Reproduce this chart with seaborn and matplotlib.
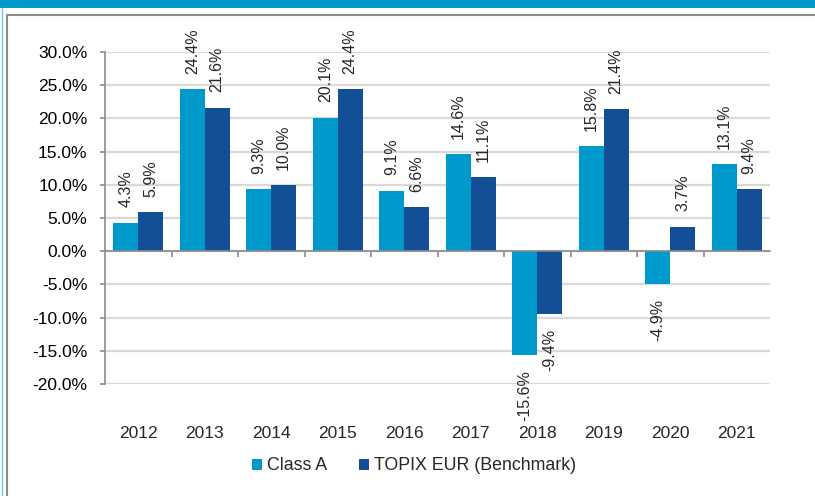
import pandas as pd
import matplotlib
matplotlib.use("Agg")
import matplotlib.pyplot as plt
import matplotlib.ticker as mticker
from matplotlib.patches import Rectangle, Patch
from matplotlib.lines import Line2D
import seaborn as sns

# ── Data ──────────────────────────────────────────────────
years = ["2012", "2013", "2014", "2015", "2016", "2017", "2018", "2019", "2020", "2021"]
class_a = [4.3, 24.4, 9.3, 20.1, 9.1, 14.6, -15.6, 15.8, -4.9, 13.1]
topix = [5.9, 21.6, 10.0, 24.4, 6.6, 11.1, -9.4, 21.4, 3.7, 9.4]
series_names = ["Class A", "TOPIX EUR (Benchmark)"]

PALETTE = {"Class A": "#0099cc", "TOPIX EUR (Benchmark)": "#134f97"}
GRID = "#d9d9d9"
AXIS = "#8c8c8c"

sns.set_theme(style="white")
plt.rcParams["font.family"] = ["Liberation Sans", "DejaVu Sans"]

df = pd.DataFrame({
    "year": years * 2,
    "value": class_a + topix,
    "series": [series_names[0]] * len(years) + [series_names[1]] * len(years),
})

fig = plt.figure(figsize=(8.15, 4.96), dpi=100)
W, H = 815, 496
ax = fig.add_axes([105 / W, 1 - 384 / H, 665 / W, 332 / H])

sns.barplot(data=df, x="year", y="value", hue="series", order=years,
            hue_order=series_names, palette=PALETTE, width=0.75,
            saturation=1, legend=False, ax=ax, edgecolor="none")

ax.set_ylim(-20, 30)
ax.set_xlim(-0.5, len(years) - 0.5)
ax.yaxis.set_major_locator(mticker.MultipleLocator(5))
ax.yaxis.set_major_formatter(mticker.FuncFormatter(lambda v, _: f"{v:.1f}%"))
ax.grid(axis="y", color=GRID, linewidth=1.6)
ax.set_axisbelow(True)
ax.set_xlabel("")
ax.set_ylabel("")

for side in ["top", "right"]:
    ax.spines[side].set_visible(False)
ax.spines["left"].set_color(AXIS)
ax.spines["left"].set_linewidth(1.2)
ax.spines["bottom"].set_position(("data", 0))
ax.spines["bottom"].set_color(AXIS)
ax.spines["bottom"].set_linewidth(1.2)
ax.spines["bottom"].set_zorder(3)

ax.tick_params(axis="y", direction="out", length=3.6, width=1.2, color=AXIS,
               pad=9, labelsize=12.5, labelcolor="black", left=True)
# category separators on the zero line
ax.set_xticks(range(len(years)))
ax.set_xticklabels([""] * len(years))
ax.tick_params(axis="x", which="major", length=0)
ax.xaxis.set_minor_locator(mticker.FixedLocator([i + 0.5 for i in range(len(years) - 1)]))
ax.tick_params(axis="x", which="minor", direction="out", length=4, width=1.2,
               color=AXIS, bottom=True)

# year labels at the bottom of the plot area
sec = ax.secondary_xaxis("bottom")
sec.set_xticks(range(len(years)))
sec.set_xticklabels(years)
sec.tick_params(length=0, pad=30, labelsize=12.5)
sec.spines["bottom"].set_visible(False)

# data labels
for cont in ax.containers:
    ax.bar_label(cont, labels=[f"{b.get_height():.1f}%" for b in cont],
                 rotation=90, padding=11, fontsize=11.5)

# legend
handles = [Patch(facecolor=PALETTE[s], edgecolor="none") for s in series_names]
fig.legend(handles, series_names, loc="center", bbox_to_anchor=(414 / W, 1 - 466 / H),
           ncol=2, frameon=False, fontsize=12.8, handlelength=0.55, handleheight=0.55,
           handletextpad=0.3, columnspacing=1.8)

# frame decoration
fig.patches.append(Rectangle((0, 1 - 8 / H), 1, 8 / H, transform=fig.transFigure,
                             facecolor="#0099cc", edgecolor="none"))
fig.lines.append(Line2D([7 / W, 1], [1 - 15 / H] * 2, transform=fig.transFigure,
                        color="#8c8c8c", linewidth=1.5))
fig.lines.append(Line2D([7 / W] * 2, [0, 1 - 15 / H], transform=fig.transFigure,
                        color="#8c8c8c", linewidth=1.5))
fig.lines.append(Line2D([1.5 / W] * 2, [0, 1 - 8 / H], transform=fig.transFigure,
                        color="#6ec3e6", linewidth=1))

fig.savefig("out.png", dpi=100, facecolor="white")
